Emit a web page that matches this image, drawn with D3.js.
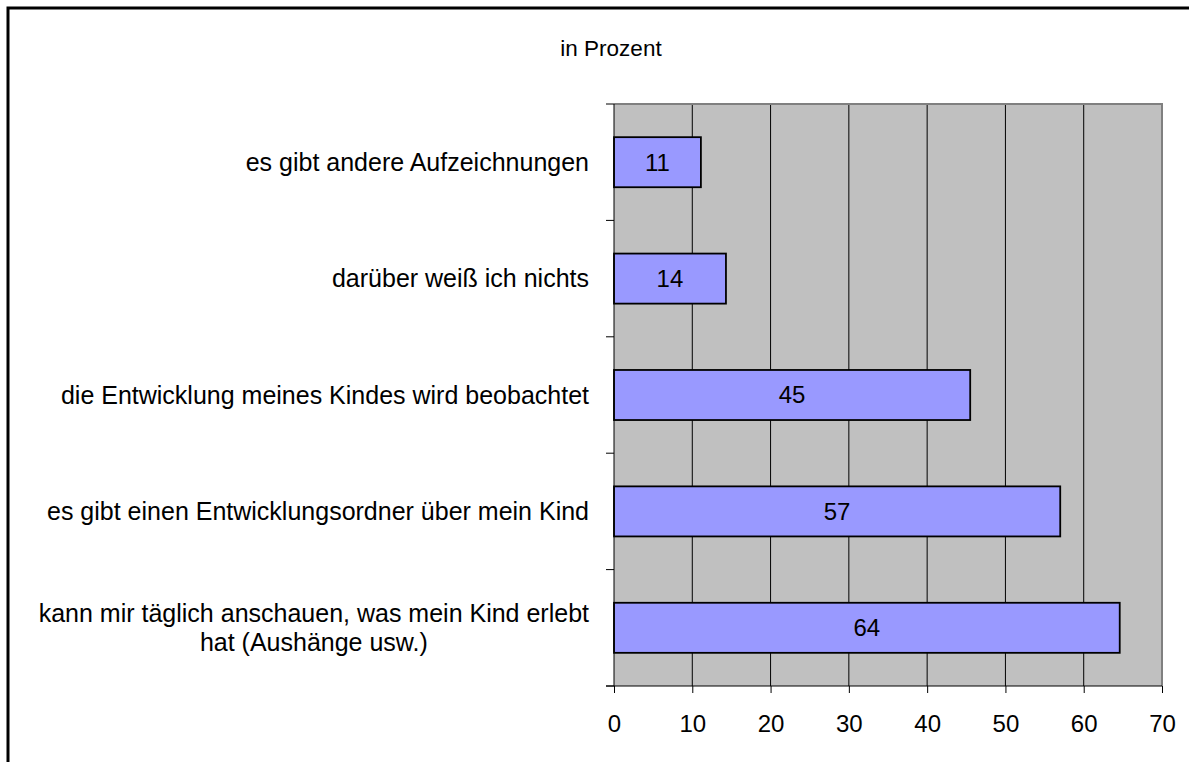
<!DOCTYPE html>
<html>
<head>
<meta charset="utf-8">
<script src="https://cdn.jsdelivr.net/npm/d3@7"></script>
<style>
  body { margin: 0; background: #fff; }
  svg { display: block; font-family: "Liberation Sans", Arial, sans-serif; }
</style>
</head>
<body>
<svg id="chart" width="1189" height="762"></svg>
<script>
// Data (top to bottom as drawn)
const categories = [
    ["es gibt andere Aufzeichnungen"],
    ["darüber weiß ich nichts"],
    ["die Entwicklung meines Kindes wird beobachtet"],
    ["es gibt einen Entwicklungsordner über mein Kind"],
    ["kann mir täglich anschauen, was mein Kind erlebt", "hat (Aushänge usw.)"]
];
const values = [11.1, 14.3, 45.5, 57.0, 64.6];
const valueLabels = ["11", "14", "45", "57", "64"];
const xTicks = [0, 10, 20, 30, 40, 50, 60, 70];
const title = "in Prozent";

const svg = d3.select("#chart");
const fontSize = 24;

// Plot area
const plot = { left: 614, top: 104, right: 1162, bottom: 686 };

const x = d3.scaleLinear()
    .domain([0, 70])
    .range([plot.left, plot.right]);

const y = d3.scaleBand()
    .domain(d3.range(categories.length))
    .range([plot.top, plot.bottom])
    .paddingInner(0.57)
    .paddingOuter(0.285);

// Outer frame
svg.append("rect")
    .attr("x", 8).attr("y", 8)
    .attr("width", 1220).attr("height", 800)
    .attr("fill", "none")
    .attr("stroke", "#000")
    .attr("stroke-width", 3);

// Title
svg.append("text")
    .attr("x", 611).attr("y", 56)
    .attr("text-anchor", "middle")
    .attr("font-size", 22.5)
    .text(title);

// Plot background
svg.append("rect")
    .attr("x", plot.left).attr("y", plot.top)
    .attr("width", plot.right - plot.left)
    .attr("height", plot.bottom - plot.top)
    .attr("fill", "#c0c0c0");

// Gridlines
svg.append("g")
    .selectAll("line")
    .data(xTicks.filter(d => d > 0 && d < 70))
    .join("line")
    .attr("x1", d => x(d)).attr("x2", d => x(d))
    .attr("y1", plot.top).attr("y2", plot.bottom)
    .attr("stroke", "#000")
    .attr("stroke-width", 1);

// Top and right borders of plot area
svg.append("path")
    .attr("d", `M${plot.left},${plot.top}H${plot.right}V${plot.bottom}`)
    .attr("fill", "none")
    .attr("stroke", "#808080")
    .attr("stroke-width", 2);

// Bars
svg.append("g")
    .selectAll("rect")
    .data(values)
    .join("rect")
    .attr("x", x(0))
    .attr("y", (d, i) => y(i))
    .attr("width", d => x(d) - x(0))
    .attr("height", y.bandwidth())
    .attr("fill", "#9999ff")
    .attr("stroke", "#000")
    .attr("stroke-width", 1.8);

// Value labels
svg.append("g")
    .selectAll("text")
    .data(values)
    .join("text")
    .attr("x", d => (x(0) + x(d)) / 2)
    .attr("y", (d, i) => y(i) + y.bandwidth() / 2)
    .attr("dy", "0.35em")
    .attr("text-anchor", "middle")
    .attr("font-size", fontSize)
    .text((d, i) => valueLabels[i]);

// X axis
const xAxis = svg.append("g")
    .attr("transform", `translate(0,${plot.bottom})`)
    .call(d3.axisBottom(x).tickValues(xTicks).tickSize(7).tickPadding(22).tickSizeOuter(0));
xAxis.select(".domain").remove();
xAxis.selectAll("text").attr("font-size", fontSize).attr("font-family", "Liberation Sans, Arial, sans-serif").attr("fill", "#000");
xAxis.selectAll("line").attr("stroke", "#000");

svg.append("line")
    .attr("x1", plot.left - 8).attr("x2", plot.right)
    .attr("y1", plot.bottom).attr("y2", plot.bottom)
    .attr("stroke", "#000");

// Y axis line and ticks at category boundaries
svg.append("line")
    .attr("x1", plot.left).attr("x2", plot.left)
    .attr("y1", plot.top).attr("y2", plot.bottom)
    .attr("stroke", "#000");

const step = y.step();
svg.append("g")
    .selectAll("line")
    .data(d3.range(categories.length + 1))
    .join("line")
    .attr("x1", plot.left - 8).attr("x2", plot.left)
    .attr("y1", i => plot.top + i * step)
    .attr("y2", i => plot.top + i * step)
    .attr("stroke", "#000");

// Category labels
const labelRight = plot.left - 25;
const lineHeight = 29;
const catG = svg.append("g").attr("font-size", 25);
categories.forEach((lines, i) => {
    const cy = y(i) + y.bandwidth() / 2;
    const t = catG.append("text")
        .attr("fill", "#000");
    lines.forEach((line, j) => {
        t.append("tspan")
            .attr("x", labelRight)
            .attr("y", cy + (j - (lines.length - 1) / 2) * lineHeight)
            .attr("dy", "0.35em")
            .text(line);
    });
    if (lines.length > 1) {
        const maxW = d3.max(t.selectAll("tspan").nodes(), n => n.getComputedTextLength());
        t.attr("text-anchor", "middle")
            .selectAll("tspan").attr("x", labelRight - maxW / 2);
    } else {
        t.attr("text-anchor", "end");
    }
});
</script>
</body>
</html>
